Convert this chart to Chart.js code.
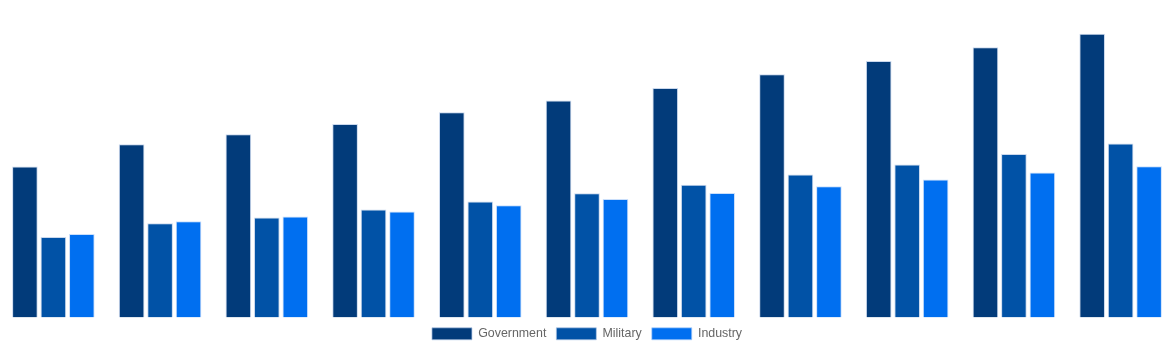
<!DOCTYPE html>
<html>
<head>
<meta charset="utf-8">
<script src="https://cdn.jsdelivr.net/npm/chart.js@4/dist/chart.umd.min.js"></script>
<style>
html,body{margin:0;padding:0;background:#fff;}
#wrap{width:1174px;height:350px;position:relative;}
</style>
</head>
<body>
<div id="wrap"><canvas id="c"></canvas></div>
<script>
const categories = ["2010","2011","2012","2013","2014","2015","2016","2017","2018","2019","2020"];
const government = [47.4, 54.4, 57.5, 60.7, 64.4, 68.1, 72.0, 76.3, 80.5, 84.8, 89.0];
const military   = [25.3, 29.6, 31.4, 33.9, 36.4, 39.0, 41.7, 44.9, 48.0, 51.3, 54.6];
const industry   = [26.2, 30.2, 31.7, 33.3, 35.2, 37.2, 39.1, 41.2, 43.3, 45.5, 47.5];
const seriesNames = ["Government", "Military", "Industry"];

Chart.defaults.font.family = "'Liberation Sans', Arial, Helvetica, sans-serif";
new Chart(document.getElementById('c'), {
  type: 'bar',
  data: {
    labels: categories,
    datasets: [
      {label: seriesNames[0], data: government, backgroundColor: '#023b7a', borderColor: 'rgba(180,200,230,0.7)', borderWidth: 1},
      {label: seriesNames[1], data: military, backgroundColor: '#0152a6', borderColor: 'rgba(180,200,230,0.7)', borderWidth: 1},
      {label: seriesNames[2], data: industry, backgroundColor: '#006ff0', borderColor: 'rgba(180,210,250,0.7)', borderWidth: 1}
    ]
  },
  options: {
    responsive: true,
    maintainAspectRatio: false,
    animation: false,
    layout: {padding: 0},
    scales: {
      x: {display: false},
      y: {display: false, min: 0, max: 99.6}
    },
    plugins: {
      legend: {
        position: 'bottom',
        labels: {color: '#666', font: {size: 12.4}, boxWidth: 40, boxHeight: 12, padding: 10}
      },
      tooltip: {enabled: false}
    }
  }
});
</script>
</body>
</html>
